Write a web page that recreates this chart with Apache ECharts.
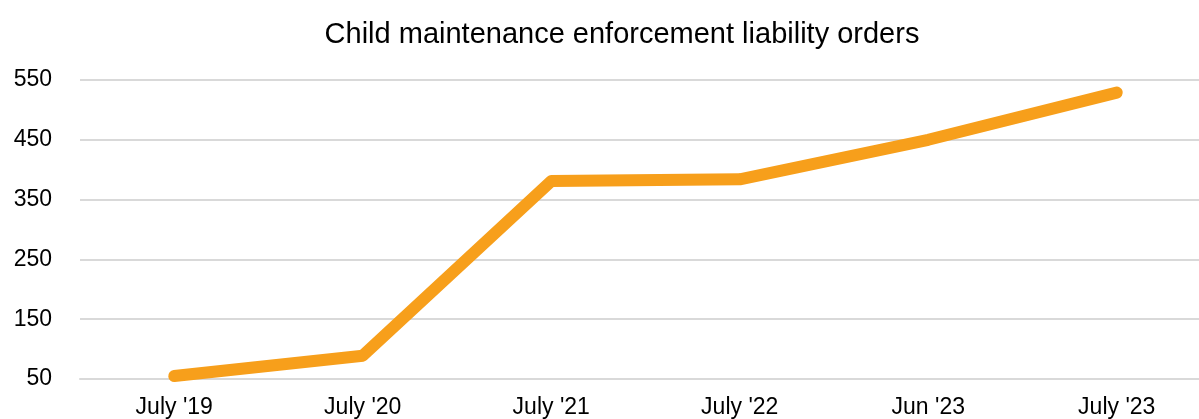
<!DOCTYPE html>
<html>
<head>
<meta charset="utf-8">
<script src="https://cdn.jsdelivr.net/npm/echarts@6/dist/echarts.min.js"></script>
<style>html,body{margin:0;padding:0;background:#fff;}#c{width:1199px;height:419px;}</style>
</head>
<body>
<div id="c"></div>
<script>
const categories = ["July '19", "July '20", "July '21", "July '22", "Jun '23", "July '23"];
const orders = [55, 89, 381, 384, 450, 529];
const yTicks = [50, 150, 250, 350, 450, 550];

const chart = echarts.init(document.getElementById('c'));
chart.setOption({
  animation: false,
  backgroundColor: '#fff',
  title: {
    text: 'Child maintenance enforcement liability orders',
    left: 617, top: 15, textAlign: 'center',
    textStyle: { fontFamily: 'Liberation Sans', fontSize: 29, fontWeight: 'normal', color: '#000' }
  },
  grid: { left: 80, top: 80, width: 1131, height: 299, outerBoundsMode: 'none', containLabel: false },
  xAxis: {
    type: 'category', data: categories, boundaryGap: true,
    axisLine: { show: true, lineStyle: { color: '#d9d9d9', width: 2 } },
    axisTick: { show: false },
    axisLabel: { fontFamily: 'Liberation Sans', fontSize: 23, color: '#000', margin: 17 }
  },
  yAxis: {
    type: 'value', min: yTicks[0], max: yTicks[yTicks.length - 1], interval: 100,
    axisLine: { show: false }, axisTick: { show: false },
    splitLine: { lineStyle: { color: '#d9d9d9', width: 2 } },
    axisLabel: { fontFamily: 'Liberation Sans', fontSize: 23, color: '#000', margin: 28 }
  },
  series: [{
    type: 'line', data: orders, showSymbol: false, symbol: 'none',
    lineStyle: { color: '#F79F1B', width: 12, cap: 'round', join: 'round' }
  }]
});
</script>
</body>
</html>
